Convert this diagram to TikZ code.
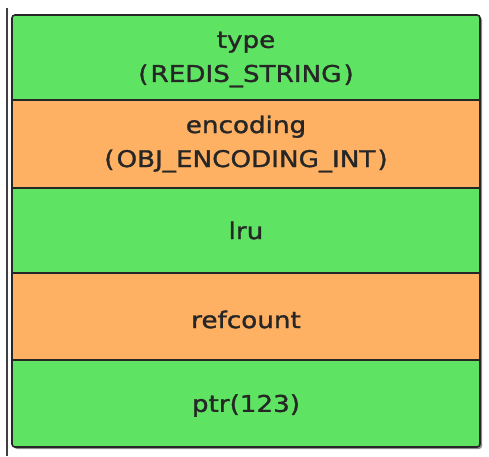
\documentclass[tikz,border=0pt]{standalone}
\usepackage{fontspec}
\setmainfont[FakeStretch=1.14,FakeBold=1.3]{DejaVu Sans}
\definecolor{cellgreen}{HTML}{5EE462}
\definecolor{cellorange}{HTML}{FFB163}
\definecolor{ink}{HTML}{262626}
\begin{document}
\begin{tikzpicture}[x=1pt,y=-1pt,
  cell/.style={draw=ink, line width=1.4pt, minimum width=468pt, inner sep=0pt,
    align=center, text=ink, font=\fontsize{23}{34}\selectfont},
  greencell/.style={cell, fill=cellgreen},
  orangecell/.style={cell, fill=cellorange},
  label text/.style={cell, draw=none, minimum width=0pt}]
\useasboundingbox (0,0) rectangle (489,456);
% rule at the left margin
\draw[black!75, line width=1.6pt] (7,8) -- (7,456);
% soft shadow behind the stack
\fill[black!45, rounded corners=3pt] (14,17) rectangle (482,449);
% the five fields of the object, top to bottom
\begin{scope}
  \clip[rounded corners=3pt] (12,15) rectangle (480,447);
  \node[greencell, minimum height=85pt] (type) at (246,57.5) {};
  \node[orangecell, minimum height=88pt] (encoding) at (246,144) {};
  \node[greencell, minimum height=85pt] (lru) at (246,230.5) {};
  \node[orangecell, minimum height=87pt] (refcount) at (246,316.5) {};
  \node[greencell, minimum height=87pt] (ptr) at (246,403.5) {};
\end{scope}
% field labels
\node[label text] (typetext) at ([yshift=-2pt]type.center)
  {type\\(\kern2pt REDIS\_STRING\kern2pt)};
\node[label text] (encodingtext) at (encoding.center)
  {encoding\\(\kern2pt OBJ\_ENCODING\_INT\kern2pt)};
\node[label text] (lrutext) at (lru.center) {lru};
\node[label text] (refcounttext) at ([yshift=-3pt]refcount.center) {refcount};
\node[label text] (ptrtext) at ([yshift=-2pt]ptr.center) {ptr(123)};
% outer frame
\draw[ink, line width=1.6pt, rounded corners=3pt] (12,15) rectangle (480,447);
\end{tikzpicture}
\end{document}
